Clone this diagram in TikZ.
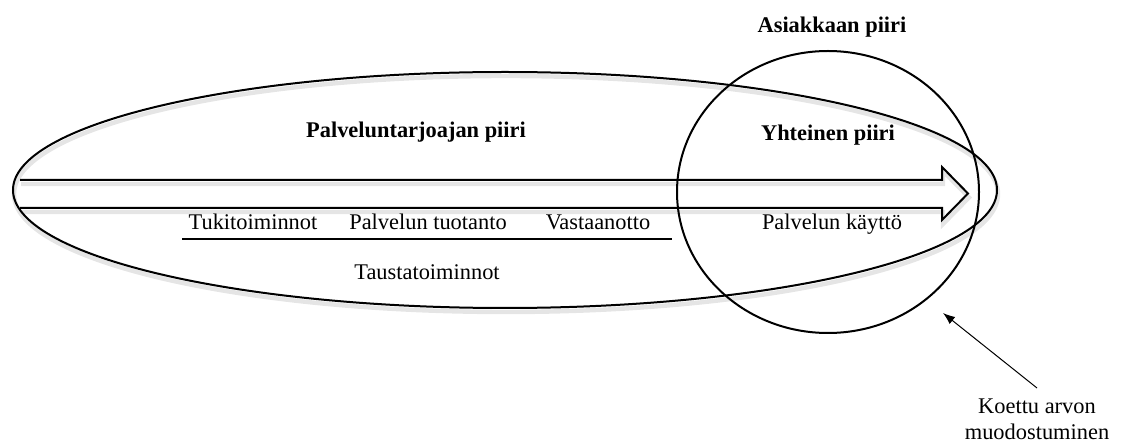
\documentclass[tikz,border=0pt]{standalone}
\usepackage{fontspec}
\setmainfont{Liberation Serif}
\usetikzlibrary{arrows.meta}

\begin{document}
\begin{tikzpicture}[
  x=0.5pt, y=-0.5pt,
  plaintext/.style={inner sep=1pt, align=center, font=\fontsize{11.2}{13.4}\selectfont},
  headtext/.style={plaintext, font=\fontsize{11.2}{13.4}\selectfont\bfseries},
  outline/.style={draw=black, line width=1pt},
  softshadow/.style={draw=black!10, line width=2.2pt},
  pointer/.style={draw=black, line width=0.5pt, -{Latex[length=6pt,width=4.5pt]}}
]
\useasboundingbox (0,0) rectangle (1125,443);

% Soft shadows
\begin{scope}[shift={(1,4)}]
  \draw[softshadow] (505,190) ellipse [x radius=492, y radius=118];
  \draw[softshadow] (20,180) -- (942,180) -- (942,167) -- (968,193.5) -- (942,220) -- (942,208) -- (20,208);
\end{scope}

% Circles
\draw[outline] (505,190) ellipse [x radius=492, y radius=118];
\draw[outline] (828,192) ellipse [x radius=151, y radius=141];

% Process arrow
\draw[outline, line join=miter] (20,180) -- (942,180) -- (942,167) -- (968,193.5) -- (942,220) -- (942,208) -- (20,208);

% Titles
\node[headtext] (customer) at (832,27) {Asiakkaan piiri};
\node[headtext] (provider) at (416,132) {Palveluntarjoajan piiri};
\node[headtext] (joint) at (828,135) {Yhteinen piiri};

% Activities
\node[plaintext] (support) at (253,222) {Tukitoiminnot};
\node[plaintext] (production) at (428,222) {Palvelun tuotanto};
\node[plaintext] (reception) at (598,222) {Vastaanotto};
\node[plaintext] (usage) at (832,224) {Palvelun käyttö};
\node[plaintext] (backoffice) at (427,272) {Taustatoiminnot};
\draw[line width=0.7pt] (182,239) -- (672,239);

% Value annotation
\node[plaintext, anchor=north] (value) at (1037,396) {Koettu arvon\\muodostuminen};
\coordinate (valuetip) at (943,313);
\draw[pointer] ([yshift=4pt]value.north) -- (valuetip);

\end{tikzpicture}
\end{document}
